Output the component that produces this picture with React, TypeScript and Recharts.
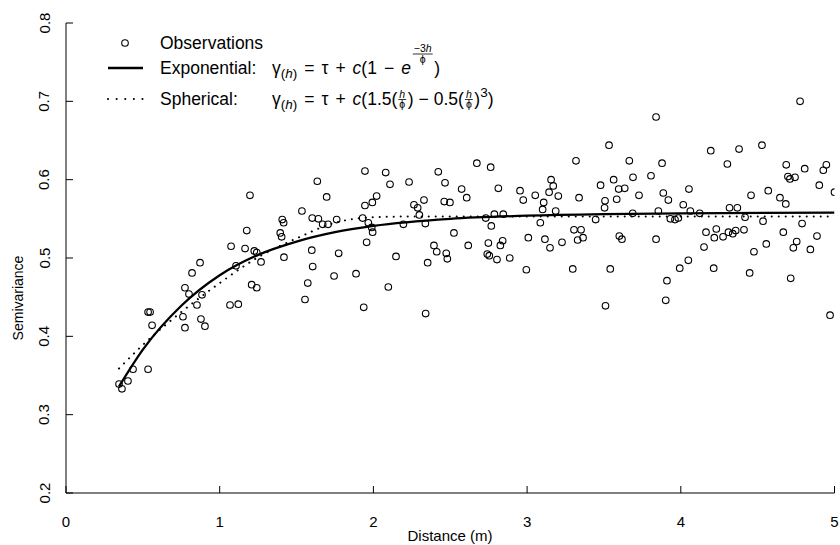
import { ComposedChart, Scatter, Line, XAxis, YAxis } from 'recharts';

const SANS = '"Liberation Sans", Arial, Helvetica, sans-serif';
const W = 840;
const H = 545;

const obsDistance = [
  1.074, 0.872, 0.82, 0.774, 0.8, 0.885, 0.852, 1.067, 0.547, 0.534, 0.761, 0.878, 0.904, 0.56, 0.774, 0.534, 0.436, 0.403, 0.345, 0.364,
  1.635, 1.197, 1.696, 1.535, 1.407, 1.416, 1.602, 1.642, 1.67, 1.705, 1.761, 1.176, 1.394, 1.403, 1.165, 1.225, 1.241, 1.269, 1.418, 1.599,
  1.774, 1.106, 1.605, 1.887, 1.744, 1.573, 1.208, 1.241, 1.555, 1.121,
  2.673, 1.945, 2.08, 2.422, 2.108, 2.232, 2.466, 2.574, 2.021, 1.993, 1.945, 2.607, 2.329, 2.461, 2.498, 2.264, 2.288, 2.299, 1.93, 1.967,
  1.989, 1.995, 2.195, 2.338, 2.524, 1.956, 2.394, 2.412, 2.474, 2.481, 2.617, 2.147, 2.353, 2.097, 1.937, 2.34,
  2.763, 3.318, 3.156, 3.17, 2.813, 2.954, 2.975, 3.143, 3.203, 3.053, 3.338, 3.478, 3.507, 3.108, 3.101, 3.186, 3.504, 2.787, 2.845, 2.731,
  3.446, 2.767, 3.086, 3.305, 3.351, 3.364, 3.329, 3.008, 3.116, 3.149, 3.227, 2.748, 2.841, 2.826, 2.741, 2.754, 2.804, 2.887, 2.995, 3.297,
  3.51,
  3.839, 3.533, 4.195, 3.665, 3.878, 4.303, 3.563, 3.689, 3.806, 3.596, 3.635, 4.053, 3.728, 3.886, 3.919, 3.583, 4.016, 4.317, 3.854, 4.062,
  4.123, 3.687, 3.932, 3.962, 3.984, 3.6, 3.617, 3.839, 4.164, 4.231, 4.218, 4.275, 4.31, 4.151, 4.049, 3.993, 4.214, 3.541, 3.91, 3.902,
  4.776, 4.528, 4.379, 4.686, 4.947, 4.927, 4.806, 4.697, 4.71, 4.743, 4.901, 4.569, 5.0, 4.457, 4.645, 4.683, 4.368, 4.418, 4.535, 4.789,
  4.338, 4.357, 4.411, 4.667, 4.886, 4.556, 4.754, 4.732, 4.843, 4.476, 4.448, 4.715, 4.971,
];
const obsSemivariance = [
  0.515, 0.494, 0.481, 0.462, 0.454, 0.453, 0.44, 0.44, 0.431, 0.431, 0.425, 0.422, 0.413, 0.414, 0.411, 0.358, 0.358, 0.343, 0.339, 0.333,
  0.598, 0.58, 0.578, 0.56, 0.549, 0.545, 0.551, 0.55, 0.543, 0.543, 0.549, 0.535, 0.532, 0.527, 0.512, 0.509, 0.507, 0.495, 0.501, 0.51,
  0.506, 0.49, 0.489, 0.48, 0.477, 0.468, 0.466, 0.462, 0.447, 0.441,
  0.621, 0.611, 0.609, 0.61, 0.594, 0.597, 0.596, 0.588, 0.579, 0.571, 0.567, 0.577, 0.574, 0.572, 0.571, 0.568, 0.564, 0.555, 0.551, 0.545,
  0.539, 0.533, 0.543, 0.544, 0.532, 0.52, 0.516, 0.508, 0.506, 0.499, 0.516, 0.502, 0.494, 0.463, 0.437, 0.429,
  0.616, 0.624, 0.6, 0.592, 0.589, 0.586, 0.574, 0.584, 0.579, 0.58, 0.577, 0.593, 0.573, 0.571, 0.562, 0.56, 0.564, 0.556, 0.556, 0.551,
  0.549, 0.541, 0.545, 0.536, 0.536, 0.526, 0.523, 0.526, 0.524, 0.513, 0.52, 0.519, 0.522, 0.516, 0.505, 0.503, 0.498, 0.5, 0.485, 0.486,
  0.439,
  0.68, 0.644, 0.637, 0.624, 0.621, 0.62, 0.6, 0.603, 0.605, 0.588, 0.589, 0.588, 0.58, 0.583, 0.574, 0.575, 0.568, 0.564, 0.56, 0.56,
  0.557, 0.557, 0.55, 0.549, 0.551, 0.528, 0.524, 0.524, 0.533, 0.537, 0.526, 0.527, 0.533, 0.514, 0.497, 0.487, 0.487, 0.486, 0.471, 0.446,
  0.7, 0.644, 0.639, 0.619, 0.619, 0.612, 0.614, 0.604, 0.601, 0.603, 0.593, 0.586, 0.584, 0.58, 0.577, 0.569, 0.564, 0.552, 0.547, 0.544,
  0.531, 0.535, 0.536, 0.533, 0.528, 0.518, 0.521, 0.513, 0.511, 0.508, 0.481, 0.474, 0.427,
];

// fitted curves
const expDistance = [0.345, 0.5, 0.75, 1, 1.25, 1.5, 1.75, 2, 2.5, 3, 3.5, 4, 5];
const expSemivariance = [0.336, 0.383, 0.439, 0.478, 0.504, 0.521, 0.533, 0.541, 0.55, 0.554, 0.556, 0.557, 0.558];

const sphDistance = [0.345, 0.5, 0.75, 1, 1.25, 1.5, 1.75, 2, 2.25, 3, 4, 5];
const sphSemivariance = [0.359, 0.389, 0.431, 0.468, 0.501, 0.525, 0.545, 0.552, 0.553, 0.553, 0.553, 0.553];

const xTicks = [0, 1, 2, 3, 4, 5];
const yTicks = [0.2, 0.3, 0.4, 0.5, 0.6, 0.7, 0.8];

const observations = obsDistance.map((x, i) => ({ x, y: obsSemivariance[i] }));
const exponential = expDistance.map((x, i) => ({ x, y: expSemivariance[i] }));
const spherical = sphDistance.map((x, i) => ({ x, y: sphSemivariance[i] }));

// R style ticks: pointing inwards
const XTick = ({ x, y, payload }: any) => (
  <g>
    <line x1={x} x2={x} y1={y} y2={y - 7} stroke="#000" />
    <text x={x} y={y + 34} textAnchor="middle" fontSize={15} fontFamily={SANS} fill="#000">
      {payload.value}
    </text>
  </g>
);

const YTick = ({ x, y, payload }: any) => (
  <g>
    <line x1={x} x2={x + 7} y1={y} y2={y} stroke="#000" />
    <text
      x={x - 22} y={y}
      transform={`rotate(-90 ${x - 22} ${y})`}
      textAnchor="middle" dominantBaseline="central"
      fontSize={15} fontFamily={SANS} fill="#000"
    >
      {Number(payload.value).toFixed(1)}
    </text>
  </g>
);

const Circle = ({ cx, cy }: any) => (
  <circle cx={cx} cy={cy} r={3.3} fill="none" stroke="#000" strokeWidth={1.1} />
);

// --- plotmath-ish formula layout -------------------------------------------
let ctx: CanvasRenderingContext2D | null = null;
const textWidth = (t: string, size: number, italic?: boolean) => {
  if (!t) return 0;
  if (!ctx) ctx = document.createElement('canvas').getContext('2d');
  if (!ctx) return t.length * size * 0.55;
  ctx.font = `${italic ? 'italic ' : ''}${size}px ${SANS}`;
  return ctx.measureText(t).width;
};

// g = extra gap after the piece (px)
type Seg = { t: string; s: number; i?: boolean; dy?: number; g?: number };
type Frac = { num: Seg[]; den: Seg[]; bar: number; s: number };
type Piece = Seg | Frac;

const segWidth = (g: Seg) => textWidth(g.t, g.s, g.i) + (g.g || 0);
const rowWidth = (segs: Seg[]) => segs.reduce((w, g) => w + segWidth(g), 0);

const drawSegs = (segs: Seg[], x: number, y: number, key: string) => {
  let cx = x;
  return segs.map((g, k) => {
    const el = (
      <text key={`${key}-${k}`} x={cx} y={y + (g.dy || 0)} fontSize={g.s}
        fontStyle={g.i ? 'italic' : 'normal'} fontFamily={SANS} fill="#000">
        {g.t}
      </text>
    );
    cx += segWidth(g);
    return el;
  });
};

const Formula = ({ x, y, pieces }: { x: number; y: number; pieces: Piece[] }) => {
  let cx = x;
  const out: any[] = [];
  pieces.forEach((p, k) => {
    if ('t' in p) {
      out.push(...drawSegs([p], cx, y, `s${k}`));
      cx += segWidth(p);
    } else {
      const nw = rowWidth(p.num);
      const dw = rowWidth(p.den);
      const fw = Math.max(nw, dw) + 2;
      const by = y + p.bar;
      out.push(<line key={`b${k}`} x1={cx + 1} x2={cx + fw + 1} y1={by} y2={by} stroke="#000" strokeWidth={0.8} />);
      out.push(...drawSegs(p.num, cx + 1 + (fw - nw) / 2, by - 1.8, `n${k}`));
      out.push(...drawSegs(p.den, cx + 1 + (fw - dw) / 2, by + p.s * 0.75 + 1, `d${k}`));
      cx += fw + 2.5;
    }
  });
  return <g>{out}</g>;
};

const BIG = 17.5;
const SUB = 13.5;
const FR = 10.5;
const OP = 7; // space around binary operators
const gammaH: Piece[] = [
  { t: 'γ', s: BIG },
  { t: '(', s: SUB, dy: 4 }, { t: 'h', s: SUB, i: true, dy: 4 }, { t: ')', s: SUB, dy: 4, g: OP },
  { t: '=', s: BIG, g: OP },
  { t: 'τ', s: BIG, g: OP },
  { t: '+', s: BIG, g: OP },
  { t: 'c', s: BIG, i: true },
];
const expFormula: Piece[] = [
  ...gammaH,
  { t: '(1', s: BIG, g: OP },
  { t: '−', s: BIG, g: OP },
  { t: 'e', s: BIG, i: true, g: 1 },
  { num: [{ t: '−3', s: FR }, { t: 'h', s: FR, i: true }], den: [{ t: 'ϕ', s: FR }], bar: -20, s: FR },
  { t: ')', s: BIG },
];
const hOverPhi: Frac = { num: [{ t: 'h', s: FR, i: true }], den: [{ t: 'ϕ', s: FR }], bar: -5.5, s: FR };
const sphFormula: Piece[] = [
  ...gammaH,
  { t: '(1.5(', s: BIG },
  hOverPhi,
  { t: ')', s: BIG, g: OP - 2 },
  { t: '−', s: BIG, g: OP - 2 },
  { t: '0.5(', s: BIG },
  hOverPhi,
  { t: ')', s: BIG },
  { t: '3', s: SUB, dy: -8 },
  { t: ')', s: BIG },
];

const Overlay = () => (
  <svg width={W} height={H} style={{ position: 'absolute', left: 0, top: 0, pointerEvents: 'none' }}>
    {/* legend */}
    <circle cx={125} cy={43} r={3.3} fill="none" stroke="#000" strokeWidth={1.1} />
    <line x1={108} x2={143} y1={68} y2={68} stroke="#000" strokeWidth={2.3} />
    <line x1={108} x2={144} y1={99} y2={99} stroke="#000" strokeWidth={2} strokeDasharray="0.1 8.5" strokeLinecap="round" />
    <text x={160} y={49} fontSize={BIG} fontFamily={SANS} fill="#000">Observations</text>
    <text x={160} y={74} fontSize={BIG} fontFamily={SANS} fill="#000">Exponential:</text>
    <text x={160} y={105} fontSize={BIG} fontFamily={SANS} fill="#000">Spherical:</text>
    <Formula x={272} y={74} pieces={expFormula} />
    <Formula x={272} y={105} pieces={sphFormula} />
    {/* axis titles */}
    <text x={450} y={541} textAnchor="middle" fontSize={15} fontFamily={SANS} fill="#000">Distance (m)</text>
    <text x={18} y={298} transform="rotate(-90 18 298)" textAnchor="middle" dominantBaseline="central"
      fontSize={14} fontFamily={SANS} fill="#000">Semivariance</text>
  </svg>
);

export default function App() {
  return (
    <div style={{ position: 'absolute', left: 0, top: 0, width: W, height: H, background: '#fff' }}>
      <ComposedChart width={W} height={H} margin={{ top: 23, right: 5.5, bottom: 0, left: 0 }}>
        <XAxis
          type="number" dataKey="x" domain={[0, 5]} ticks={xTicks} allowDataOverflow
          height={52} tickSize={0} tickMargin={0} tickLine={false}
          axisLine={{ stroke: '#000', strokeWidth: 1 }} tick={<XTick />} interval={0}
        />
        <YAxis
          type="number" dataKey="y" domain={[0.2, 0.8]} ticks={yTicks} allowDataOverflow
          width={66} tickSize={0} tickMargin={0} tickLine={false}
          axisLine={{ stroke: '#000', strokeWidth: 1 }} tick={<YTick />} interval={0}
        />
        <Scatter data={observations} dataKey="y" shape={<Circle />} isAnimationActive={false} />
        <Line
          data={spherical} dataKey="y" type="monotone" stroke="#000" strokeWidth={2}
          strokeDasharray="0.1 6.9" strokeLinecap="round" dot={false} activeDot={false} isAnimationActive={false}
        />
        <Line
          data={exponential} dataKey="y" type="monotone" stroke="#000" strokeWidth={2.3}
          dot={false} activeDot={false} isAnimationActive={false}
        />
      </ComposedChart>
      <Overlay />
    </div>
  );
}
